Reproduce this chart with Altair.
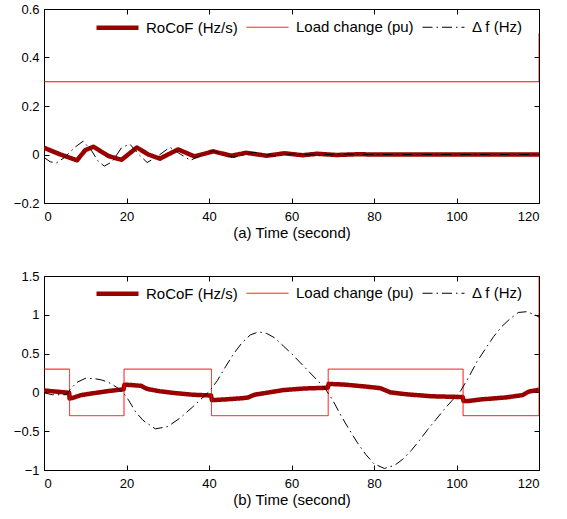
import altair as alt
import pandas as pd

SERIES = ["RoCoF (Hz/s)", "Load change (pu)", "Δ f (Hz)"]
COLORS = ["#990000", "#ff0000", "#000000"]
WIDTHS = [4.5, 1.0, 1.0]
DASHES = [[1, 0], [1, 0], [10, 4, 1.5, 4]]

X_TICKS = [0, 20, 40, 60, 80, 100, 120]

# ---- panel (a) ----
t_roc_a = [0, 1.1, 4, 8.0, 10, 12.0, 15.6, 18.8, 22.5, 25.3, 28.1, 32.5, 36.5, 41.0,
           45.4, 49, 54, 58.3, 62.7, 66.2, 71, 76, 80, 90, 100, 110, 120]
roc_a = [0.028, 0.02, 0.0, -0.024, 0.018, 0.032, -0.006, -0.022, 0.029, 0.0, -0.017,
         0.021, -0.008, 0.013, -0.005, 0.007, -0.005, 0.005, -0.003, 0.003, -0.002,
         0.001, 0.0, 0.0, 0.0, 0.0, 0.0]

t_load_a = [0, 120, 120]
load_a = [0.3, 0.3, 0.5]

t_df_a = [0, 1.5, 3, 5, 7.5, 9.5, 11.6, 13, 14.6, 16.5, 18.8, 20.8, 23, 25, 27.5, 30.5,
          33, 35.5, 38.5, 41, 43.5, 46, 48.5, 51, 53.5, 56, 61, 66, 71, 80, 90, 100, 110, 120]
df_a = [-0.012, -0.03, -0.035, -0.012, 0.03, 0.055, 0.014, -0.025, -0.048, -0.03, 0.028,
        0.043, 0.0, -0.033, -0.008, 0.03, 0.002, -0.024, 0.0, 0.015, 0.0, -0.012, 0.0,
        0.009, 0.0, -0.006, 0.004, -0.003, 0.002, 0.0, 0.0, 0.0, 0.0, 0.0]

# ---- panel (b) ----
t_roc_b = [0, 3, 6.1, 6.2, 7, 9, 12, 16, 19.3, 19.5, 21, 23.5, 25, 28, 32, 36, 40.5, 40.7,
           44, 48, 49.5, 51, 54, 58, 63, 68.8, 69, 73, 78, 81.5, 84, 88, 94, 101.5, 101.7,
           103, 106, 112, 116, 117.5, 120]
roc_b = [0.025, 0.01, -0.005, -0.08, -0.07, -0.035, -0.01, 0.02, 0.04, 0.1, 0.095, 0.085,
         0.045, 0.015, -0.01, -0.03, -0.04, -0.1, -0.09, -0.075, -0.065, -0.03, -0.005,
         0.03, 0.05, 0.06, 0.11, 0.1, 0.075, 0.055, 0.0, -0.025, -0.05, -0.06, -0.11, -0.11,
         -0.09, -0.065, -0.035, 0.01, 0.035]

t_load_b = [0, 6.2, 6.2, 19.4, 19.4, 40.6, 40.6, 68.9, 68.9, 101.6, 101.6, 120, 120]
load_b = [0.3, 0.3, -0.3, -0.3, 0.3, 0.3, -0.3, -0.3, 0.3, 0.3, -0.3, -0.3, 1.5]

t_df_b = [0, 2, 5.5, 6.5, 8, 10, 12, 14, 16, 17.5, 19.2, 20.5, 22.2, 24, 27, 30, 33, 36, 38,
          40, 42, 44, 46, 48, 50, 52, 54, 56, 58, 60, 62, 64, 66, 68, 70, 72, 74, 76, 78,
          80, 82.5, 85, 87, 89, 91, 93, 95, 97, 99, 101, 103, 105, 107, 109, 111, 113, 115,
          117, 119, 120]
df_b = [-0.005, -0.03, -0.03, 0.05, 0.13, 0.18, 0.18, 0.16, 0.12, 0.07, 0.0, -0.1, -0.25,
        -0.36, -0.47, -0.44, -0.33, -0.19, -0.09, 0.01, 0.15, 0.33, 0.5, 0.64, 0.74, 0.78,
        0.76, 0.7, 0.6, 0.5, 0.39, 0.28, 0.17, 0.06, -0.1, -0.3, -0.48, -0.65, -0.8, -0.92,
        -0.98, -0.94, -0.86, -0.75, -0.62, -0.48, -0.35, -0.22, -0.1, 0.02, 0.2, 0.4, 0.56,
        0.72, 0.85, 0.95, 1.03, 1.04, 1.0, 0.97]


def build_df(parts):
    rows = []
    for name, ts, vs in parts:
        for i, (t, v) in enumerate(zip(ts, vs)):
            rows.append({"series": name, "t": t, "v": v, "i": i})
    return pd.DataFrame(rows)


def panel(df, ydomain, yticks, title, legend_y):
    xscale = alt.Scale(domain=[0, 120], nice=False, zero=False)
    yscale = alt.Scale(domain=ydomain, nice=False, zero=False)
    leg = dict(orient="none", legendX=50, legendY=legend_y, direction="horizontal",
               columns=3, title=None)
    lines = alt.Chart(df).mark_line(clip=True, strokeCap="butt", strokeJoin="round").encode(
        x=alt.X("t:Q", scale=xscale,
                axis=alt.Axis(values=X_TICKS, title=title, orient="bottom", offset=-5,
                              domain=False, grid=False, tickSize=5, tickColor="black",
                              labelPadding=7, labelFontSize=13, titleFontSize=15,
                              titleFontWeight="normal", titlePadding=2, labelColor="black",
                              titleColor="black")),
        y=alt.Y("v:Q", scale=yscale,
                axis=alt.Axis(values=yticks, title=None, orient="left", offset=-5,
                              domain=False, grid=False, tickSize=5, tickColor="black",
                              labelPadding=5, labelFontSize=13, format="~g",
                              labelColor="black")),
        color=alt.Color("series:N", scale=alt.Scale(domain=SERIES, range=COLORS),
                        legend=alt.Legend(symbolType="stroke", symbolSize=1764,
                                          labelFontSize=15, labelOffset=5,
                                          columnPadding=6, padding=0,
                                          labelColor="black", **leg)),
        strokeDash=alt.StrokeDash("series:N", scale=alt.Scale(domain=SERIES, range=DASHES),
                                  legend=alt.Legend(**leg)),
        strokeWidth=alt.StrokeWidth("series:N",
                                    scale=alt.Scale(type="ordinal", domain=SERIES, range=WIDTHS),
                                    legend=alt.Legend(**leg)),
        order=alt.Order("i:Q"),
    )
    ticks2 = alt.Chart(df).mark_line(opacity=0).encode(
        x=alt.X("t:Q", scale=xscale,
                axis=alt.Axis(values=X_TICKS, title=None, orient="top", offset=-5,
                              domain=False, grid=False, labels=False, tickSize=5,
                              tickColor="black")),
        y=alt.Y("v:Q", scale=yscale,
                axis=alt.Axis(values=yticks, title=None, orient="right", offset=-5,
                              domain=False, grid=False, labels=False, tickSize=5,
                              tickColor="black")),
        detail="series:N",
        order=alt.Order("i:Q"),
    )
    return alt.layer(lines, ticks2).resolve_axis(x="independent", y="independent").properties(
        width=495, height=194)


df_top = build_df([(SERIES[0], t_roc_a, roc_a), (SERIES[1], t_load_a, load_a),
                   (SERIES[2], t_df_a, df_a)])
df_bot = build_df([(SERIES[0], t_roc_b, roc_b), (SERIES[1], t_load_b, load_b),
                   (SERIES[2], t_df_b, df_b)])

top = panel(df_top, [-0.2, 0.6], [-0.2, 0, 0.2, 0.4, 0.6], "(a) Time (second)", -5)
bot = panel(df_bot, [-1, 1.5], [-1, -0.5, 0, 0.5, 1, 1.5], "(b) Time (second)", -6)

chart = alt.vconcat(top, bot, spacing=28).resolve_scale(
    color="independent", strokeDash="independent", strokeWidth="independent"
).properties(
    padding={"left": 12, "top": 2, "right": 10, "bottom": 5},
    background="white",
).configure(
    font="Liberation Sans"
).configure_view(stroke="black", strokeWidth=1)

chart.save("out.html", embed_options={"renderer": "svg", "actions": False})
